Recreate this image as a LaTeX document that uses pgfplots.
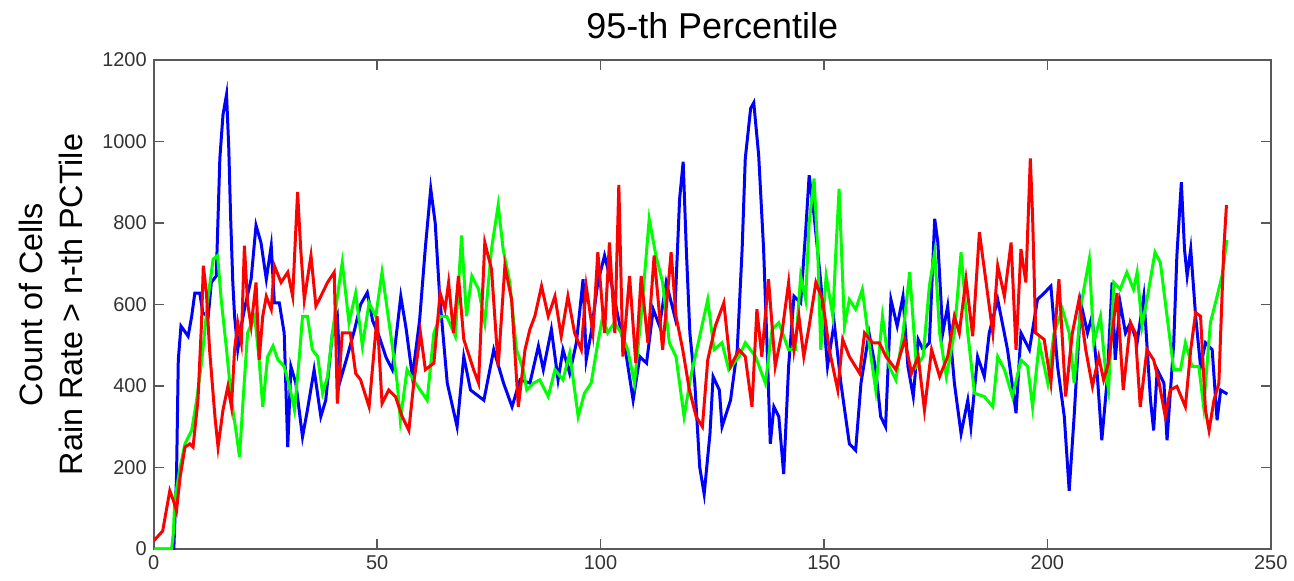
\documentclass[border=0pt]{standalone}
\usepackage{pgfplots}
\pgfplotsset{compat=1.18}
\usepackage{fontspec}
\setmainfont{Liberation Sans}

\begin{document}
\begin{tikzpicture}
\begin{axis}[
    width=559.5pt, height=245pt, scale only axis,
    xmin=0, xmax=250, ymin=0, ymax=1200,
    xtick={0,50,...,250}, ytick={0,200,...,1200},
    tick align=inside, major tick length=5pt,
    axis line style={draw=black!65, line width=0.8pt},
    tick style={draw=black!65, line width=0.8pt},
    ticklabel style={font=\fontsize{10}{12}\selectfont, text=black!80},
    /pgf/number format/assume math mode=true,
    /pgf/number format/1000 sep={},
    title={95-th Percentile},
    title style={font=\fontsize{18}{21}\selectfont, at={(0.5,1)}, anchor=south, yshift=1pt},
    ylabel={Count of Cells\\Rain Rate > n-th PCTile},
    ylabel style={font=\fontsize{16.2}{20}\selectfont, align=center,
        at={(axis description cs:-0.0572,0.5)}, anchor=south, rotate=0},
    every axis plot/.append style={line width=1.5pt, mark=none},
]
% blue series
\addplot[color=blue] coordinates {
(0,0) (4.5,0) (4.7,60) (5.1,176) (5.5,464) (6.1,547) (7.7,522) (8.5,571) (9.2,628) (10.3,628)
(11,579) (12.2,571) (12.9,654) (14,670) (14.8,958) (15.5,1065) (16.3,1115) (16.8,983) (17.2,818) (17.7,654)
(18.1,571) (18.8,489) (19.6,547) (20.3,588) (21.8,662) (22.9,794) (24,752) (25.2,662) (26.3,744) (27,604)
(28.1,604) (29.2,530) (30,250) (30.7,448) (31.8,407) (33.3,275) (34.4,341) (35.9,440) (37.4,325) (38.5,365)
(40,530) (41.1,571) (41.8,415) (43.3,472) (45,540) (46.3,600) (47.8,629) (49,560) (50.5,520) (52,470)
(53.4,440) (55.3,620) (56.5,540) (57.9,423) (59.5,560) (60.8,740) (62,884) (63,800) (64,620) (65.7,407)
(67.9,300) (69.4,472) (70.9,390) (73.9,365) (76.1,489) (78.3,407) (80.2,349) (82,415) (84.2,407) (86.1,498)
(87.2,440) (89,539) (90.5,415) (91.6,489) (93.1,431) (94.6,506) (96.1,662) (96.8,464) (97.9,530) (99.4,654)
(100.9,720) (102.4,654) (103.9,571) (105.8,472) (107.3,365) (108.8,472) (110.3,456) (111.8,588) (113.2,547) (114.7,654)
(116.6,571) (117.7,859) (118.5,950) (119.2,736) (120,530) (121.1,407) (122.2,201) (123.2,135) (124.5,283) (125.2,423)
(126.6,390) (127.2,300) (129.1,365) (130.6,489) (131.7,736) (132.4,958) (133.6,1081) (134.3,1095) (135.4,966) (136.5,736)
(137.3,489) (138,258) (138.8,349) (139.9,325) (141,184) (142.1,448) (143.3,620) (144.8,604) (145.9,777) (146.7,917)
(147.8,818) (149.3,654) (150.8,448) (152.3,555) (153.8,407) (155.7,258) (157.1,242) (158.3,407) (160.1,530) (161.6,440)
(162.7,325) (163.8,300) (165,612) (166.4,547) (167.7,620) (168.8,448) (170,374) (171.1,514) (172.2,489) (173.6,506)
(174.8,810) (175.5,752) (176.6,530) (177.7,596) (179.2,407) (180.7,283) (182.2,365) (182.9,300) (184.4,472) (185.9,423)
(187,530) (188.9,612) (191.1,489) (193,333) (194.1,530) (196,489) (197.8,612) (199.3,628) (200.8,645) (202.3,448)
(203.8,325) (204.9,143) (206,325) (207.5,604) (209,530) (210,571) (211.1,440) (212.2,267) (213.4,415) (214.5,654)
(215.2,464) (216.3,604) (217.5,530) (218.6,555) (220.1,506) (221.6,620) (223.1,365) (223.8,291) (224.6,440) (226.1,407)
(226.8,267) (228.3,506) (229,720) (230,900) (230.7,736) (231.3,670) (232.1,736) (233.2,571) (234.3,448) (235.4,506)
(236.9,489) (238,316) (238.8,390) (240.3,380)
};
% green series
\addplot[color=green] coordinates {
(0,0) (4,0) (4.4,40) (4.7,119) (5.9,201) (7,258) (8.5,291) (9.6,365) (10.7,456) (12.2,620)
(13.3,711) (14.3,720) (15.1,612) (16.3,489) (17.4,365) (18.5,283) (19.2,226) (20,365) (21,530) (22.6,571)
(23.6,464) (24.4,349) (25.5,472) (26.7,498) (27.8,464) (29.2,448) (30.4,399) (31.5,341) (32.6,472) (33.3,571)
(34.4,571) (35.5,489) (36.7,472) (37.8,382) (38.9,423) (40,530) (41.5,650) (42.2,703) (43.7,555) (45.2,628)
(46.7,498) (48.2,604) (49.7,571) (51.1,679) (53,530) (54.5,407) (55.2,316) (56.7,440) (58.6,407) (61.2,365)
(62.7,530) (64.1,571) (65.6,571) (67.5,522) (68.9,769) (70,571) (71.2,670) (72.7,637) (74.1,555) (75.6,736)
(77.1,844) (78.2,736) (79.7,654) (81.2,489) (82.7,440) (83.5,390) (85,407) (86.4,415) (88.3,374) (89.8,440)
(91.6,415) (93.1,481) (95,325) (96.4,382) (97.9,407) (99.4,506) (100.5,571) (101.6,530) (103.1,555) (104.6,530)
(106.1,489) (107.6,407) (109.1,571) (110.9,810) (112.4,720) (113.9,654) (115.4,506) (116.9,472) (118.7,325) (120.2,423)
(122.2,522) (124,612) (125.4,489) (127.2,506) (128.7,440) (131,472) (132.4,506) (134.7,472) (136.9,407) (138.4,539)
(139.9,555) (142.1,489) (143.6,489) (144.8,670) (145.9,612) (146.7,801) (147.8,909) (148.6,736) (149.3,489) (150.5,670)
(152,571) (152.7,736) (153.4,884) (154.6,547) (155.7,612) (157.1,588) (158.6,637) (160.1,506) (161.6,390) (163.1,571)
(164.6,448) (166.1,415) (167.7,530) (169.2,679) (170.7,448) (172.2,472) (173.6,645) (174.8,728) (175.9,530) (177.4,423)
(179.2,530) (180.7,728) (182.2,530) (183.7,382) (185.9,374) (187.8,349) (188.9,472) (190.4,440) (192.2,374) (194.1,464)
(195.6,448) (196.7,349) (198.2,506) (200.1,407) (201.5,530) (203.4,588) (204.9,530) (206,407) (207.5,596) (209.4,711)
(210.4,506) (211.9,571) (213,440) (213.7,390) (214.9,654) (216.3,637) (217.8,679) (219.3,637) (220.1,679) (221.2,547)
(222.7,637) (224.1,728) (225.3,703) (226.8,571) (228.3,440) (229.8,440) (230.9,506) (232.4,448) (233.9,448) (235,349)
(236.5,555) (238,620) (239.1,670) (240.2,758)
};
% red series
\addplot[color=red] coordinates {
(0,20) (2,44) (3.6,143) (4.4,119) (5.1,94) (5.9,176) (7,250) (8.1,258) (8.8,250) (9.9,365)
(10.7,555) (11.1,695) (11.8,628) (12.5,489) (13.7,325) (14.4,250) (15.5,341) (16.6,399) (17.4,349) (18.1,489)
(18.8,555) (19.6,506) (20.3,744) (21,604) (21.8,547) (22.9,654) (23.6,464) (24.4,571) (25.2,620) (26.3,588)
(27,695) (28.5,654) (30,679) (31.1,620) (32.2,876) (32.9,736) (33.7,612) (35.2,720) (36.3,596) (37.4,620)
(38.9,654) (40.4,679) (41.1,357) (42.2,530) (44,530) (45.2,431) (46.3,415) (48.2,349) (50,571) (51.1,357)
(52.6,390) (54.1,374) (55.6,325) (57.1,291) (58.2,407) (59.7,530) (60.8,440) (62.7,456) (64.1,628) (65.2,588)
(66,654) (67.1,530) (68.2,670) (69.4,514) (71.6,440) (72.7,407) (74.1,752) (75.6,687) (77.1,448) (78.6,695)
(80.1,612) (81.6,349) (83.1,489) (84.2,539) (85.3,571) (86.8,645) (88.3,571) (89.8,620) (91.2,522) (92.7,620)
(94.2,530) (95.7,489) (96.8,645) (98.3,530) (99.4,728) (100.9,530) (102,752) (103.2,530) (104.1,893) (105,472)
(106.5,670) (107.9,456) (109.1,670) (110.6,506) (112,720) (113.9,489) (115.8,728) (116.9,571) (118.4,489) (119.9,390)
(121.4,325) (122.8,300) (124,464) (125.7,547) (127.6,604) (129.1,448) (131,489) (132.4,472) (133.9,349) (135,588)
(136.1,472) (137.6,662) (139.1,448) (140.6,530) (142.1,654) (143.3,489) (144.4,571) (145.5,472) (146.7,547) (148.2,654)
(149.7,612) (151.2,489) (153.1,390) (154.2,514) (155.7,472) (158,431) (159.1,530) (160.9,506) (162.4,506) (163.9,472)
(166.1,440) (168.1,514) (169.6,431) (171.1,472) (172.5,341) (174.1,489) (175.9,423) (177.7,472) (179.2,571) (180.3,530)
(181.8,662) (183.3,522) (184.8,777) (186.3,654) (187.8,530) (188.9,695) (190.4,620) (191.9,752) (193,489) (194.1,736)
(195.2,654) (196.2,958) (196.7,818) (197.4,530) (199.3,514) (200.8,407) (202.6,662) (204.1,374) (205.6,530) (207.1,612)
(208.6,489) (210.1,399) (211.5,472) (212.6,415) (213.7,456) (215.6,628) (217,390) (218.6,555) (219.7,530) (220.8,349)
(222.3,489) (223.8,464) (224.9,415) (226.4,325) (227.5,390) (229,399) (230.9,349) (232.1,489) (233.2,580) (234.3,571)
(235.4,341) (236.2,291) (237.3,365) (238.4,407) (238.8,530) (239.5,736) (240.1,844)
};
\end{axis}
\path (current axis.south west) ++(-77pt,-16pt) rectangle ++(647pt,291pt);
\end{tikzpicture}
\end{document}
